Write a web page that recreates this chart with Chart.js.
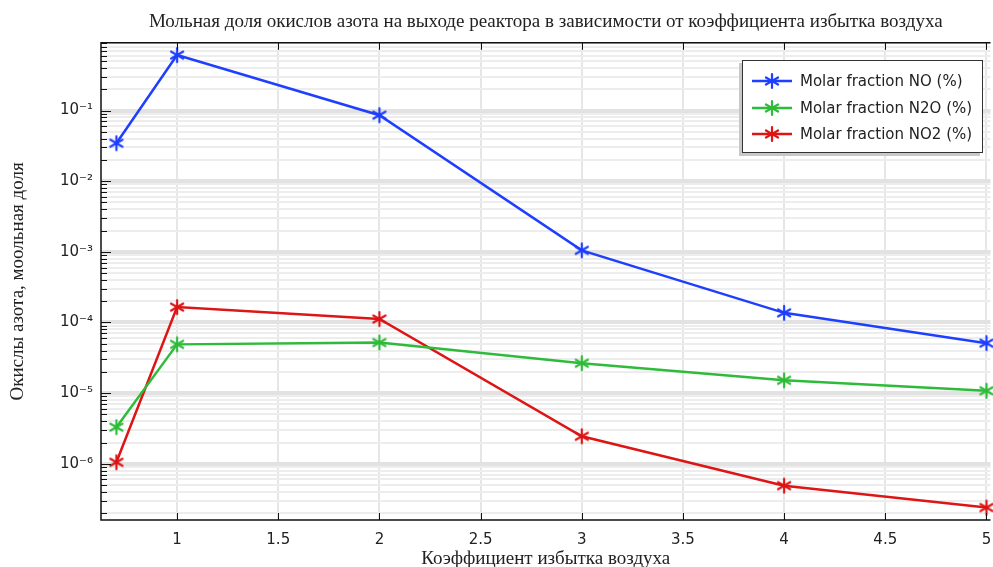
<!DOCTYPE html>
<html><head><meta charset="utf-8">
<script src="https://cdn.jsdelivr.net/npm/chart.js@4"></script>
<style>
html,body{margin:0;padding:0;background:#fff;overflow:hidden;}
#wrap{position:relative;width:993px;height:567px;overflow:hidden;}
#legend{position:absolute;left:742px;top:60px;width:241px;height:93px;border:1.5px solid #333;background:#fff;box-shadow:-3px 3px 0 #c8c8c8;font-family:"DejaVu Sans",sans-serif;font-size:15px;color:#222;box-sizing:border-box;padding-top:7px;}
.row{height:26.5px;display:flex;align-items:center;}
.row canvas{margin-left:9px;margin-right:8px;}
</style></head>
<body><div id="wrap"><canvas id="c" width="1001" height="567" style="position:absolute;left:0;top:0;"></canvas>
<div id="legend"></div></div>
<script>
const xValues = [0.7, 1, 2, 3, 4, 5];
const noValues = [0.0345, 0.61, 0.086, 1.05e-3, 1.37e-4, 5.1e-5];
const n2oValues = [3.3e-6, 4.9e-5, 5.2e-5, 2.65e-5, 1.52e-5, 1.08e-5];
const no2Values = [1.05e-6, 1.65e-4, 1.12e-4, 2.45e-6, 4.9e-7, 2.4e-7];
const seriesNames = ['Molar fraction NO (%)', 'Molar fraction N2O (%)', 'Molar fraction NO2 (%)'];
const seriesColors = ['#1f3fff', '#2fbb3a', '#dd1515'];
const titleText = 'Мольная доля окислов азота на выходе реактора в зависимости от коэффициента избытка воздуха';
const xTitle = 'Коэффициент избытка воздуха';
const yTitle = 'Окислы азота, моольная доля';
const yMin = 1.6e-7, yMax = 0.91, xMin = 0.624, xMax = 5.02;

function star(color){
  const s = 18, c = document.createElement('canvas');
  c.width = s; c.height = s;
  const g = c.getContext('2d');
  g.strokeStyle = color; g.lineWidth = 2.2; g.lineCap = 'round';
  const r = 7;
  [90, 30, 150].forEach(a => {
    const t = a * Math.PI / 180;
    g.beginPath();
    g.moveTo(s/2 - r*Math.cos(t), s/2 - r*Math.sin(t));
    g.lineTo(s/2 + r*Math.cos(t), s/2 + r*Math.sin(t));
    g.stroke();
  });
  return c;
}
function toPts(vals){ return xValues.map((x,i)=>({x:x,y:vals[i]})); }
const allVals = [noValues, n2oValues, no2Values];
const sup = {'-':'⁻','0':'⁰','1':'¹','2':'²','3':'³','4':'⁴','5':'⁵','6':'⁶','7':'⁷','8':'⁸','9':'⁹'};
function isDecade(v){ const e = Math.log10(v); return Math.abs(e - Math.round(e)) < 1e-9; }

const datasets = allVals.map((v,i)=>({
  label: seriesNames[i], data: toPts(v), borderColor: seriesColors[i], backgroundColor: seriesColors[i],
  borderWidth: 2.5, pointStyle: star(seriesColors[i]), pointRadius: 8, tension: 0, clip: false
}));

// legend
const leg = document.getElementById('legend');
seriesNames.forEach((n,i)=>{
  const row = document.createElement('div'); row.className='row';
  const ic = document.createElement('canvas'); ic.width=40; ic.height=18;
  const g = ic.getContext('2d');
  g.strokeStyle = seriesColors[i]; g.lineWidth = 2.5;
  g.beginPath(); g.moveTo(0,9); g.lineTo(40,9); g.stroke();
  g.drawImage(star(seriesColors[i]), 11, 0);
  row.appendChild(ic);
  const sp = document.createElement('span'); sp.textContent = n; row.appendChild(sp);
  leg.appendChild(row);
});

const frame = {
  id:'frame',
  afterDatasetsDraw(chart){
    const {ctx, chartArea:a, scales} = chart;
    ctx.save();
    ctx.strokeStyle = '#111'; ctx.lineWidth = 1;
    scales.y.ticks.forEach(t=>{
      const p = Math.round(scales.y.getPixelForValue(t.value)) + 0.5;
      const len = isDecade(t.value) ? 10 : 6;
      ctx.beginPath(); ctx.moveTo(a.left, p); ctx.lineTo(a.left+len, p); ctx.stroke();
    });
    scales.x.ticks.forEach(t=>{
      const p = Math.round(scales.x.getPixelForValue(t.value)) + 0.5;
      ctx.beginPath(); ctx.moveTo(p, a.bottom); ctx.lineTo(p, a.bottom-7); ctx.stroke();
      ctx.beginPath(); ctx.moveTo(p, a.top); ctx.lineTo(p, a.top+7); ctx.stroke();
    });
    ctx.lineWidth = 1.5;
    ctx.beginPath();
    ctx.moveTo(a.right, a.top); ctx.lineTo(a.left, a.top); ctx.lineTo(a.left, a.bottom); ctx.lineTo(a.right, a.bottom);
    ctx.stroke();
    ctx.restore();
  }
};

new Chart(document.getElementById('c'), {
  type: 'line',
  data: { datasets },
  plugins: [frame],
  options: {
    responsive: false, animation: false,
    layout: { padding: { left: 0, right: 0, top: 0, bottom: 0 } },
    plugins: {
      legend: { display: false },
      tooltip: { enabled: false },
      title: { display: true, text: titleText, color: '#222', fullSize: false,
        font: { family: 'Liberation Serif', size: 19, weight: 'normal' }, padding: { top: 11, bottom: 9 } }
    },
    scales: {
      x: {
        type: 'linear', min: xMin, max: xMax,
        ticks: { stepSize: 0.5, includeBounds: false, color: '#222', padding: 11,
          font: { family: 'DejaVu Sans', size: 15 }, maxRotation: 0, callback: v => String(v) },
        grid: { color: '#e6e6e6', lineWidth: 2, drawTicks: false },
        border: { display: false },
        title: { display: true, text: xTitle, color: '#222', padding: { top: 0, bottom: -3 },
          font: { family: 'Liberation Serif', size: 19 } },
        afterFit(s){ s.height = 47; s.paddingRight = 0; s.paddingLeft = 0; }
      },
      y: {
        type: 'logarithmic', min: yMin, max: yMax,
        afterBuildTicks(s){
          const t = [];
          for (let e = -7; e <= 0; e++) for (let m = 1; m <= 9; m++) {
            const v = m * Math.pow(10, e);
            if (v >= yMin && v <= yMax) t.push({ value: v });
          }
          s.ticks = t;
        },
        ticks: { autoSkip: false, color: '#222', padding: 8, font: { family: 'DejaVu Sans', size: 15 },
          callback(v){ if (!isDecade(v)) return ''; const e = String(Math.round(Math.log10(v))); return '10' + e.split('').map(ch=>sup[ch]).join(''); } },
        grid: { drawTicks: false,
          color: c => (c.tick && isDecade(c.tick.value)) ? '#e2e2e2' : '#ededed',
          lineWidth: c => (c.tick && isDecade(c.tick.value)) ? 4 : 2 },
        border: { display: false },
        title: { display: true, text: yTitle, color: '#222', padding: { top: 7, bottom: 0 },
          font: { family: 'Liberation Serif', size: 19 } },
        afterFit(s){ s.width = 101; }
      }
    }
  }
});
</script></body></html>
